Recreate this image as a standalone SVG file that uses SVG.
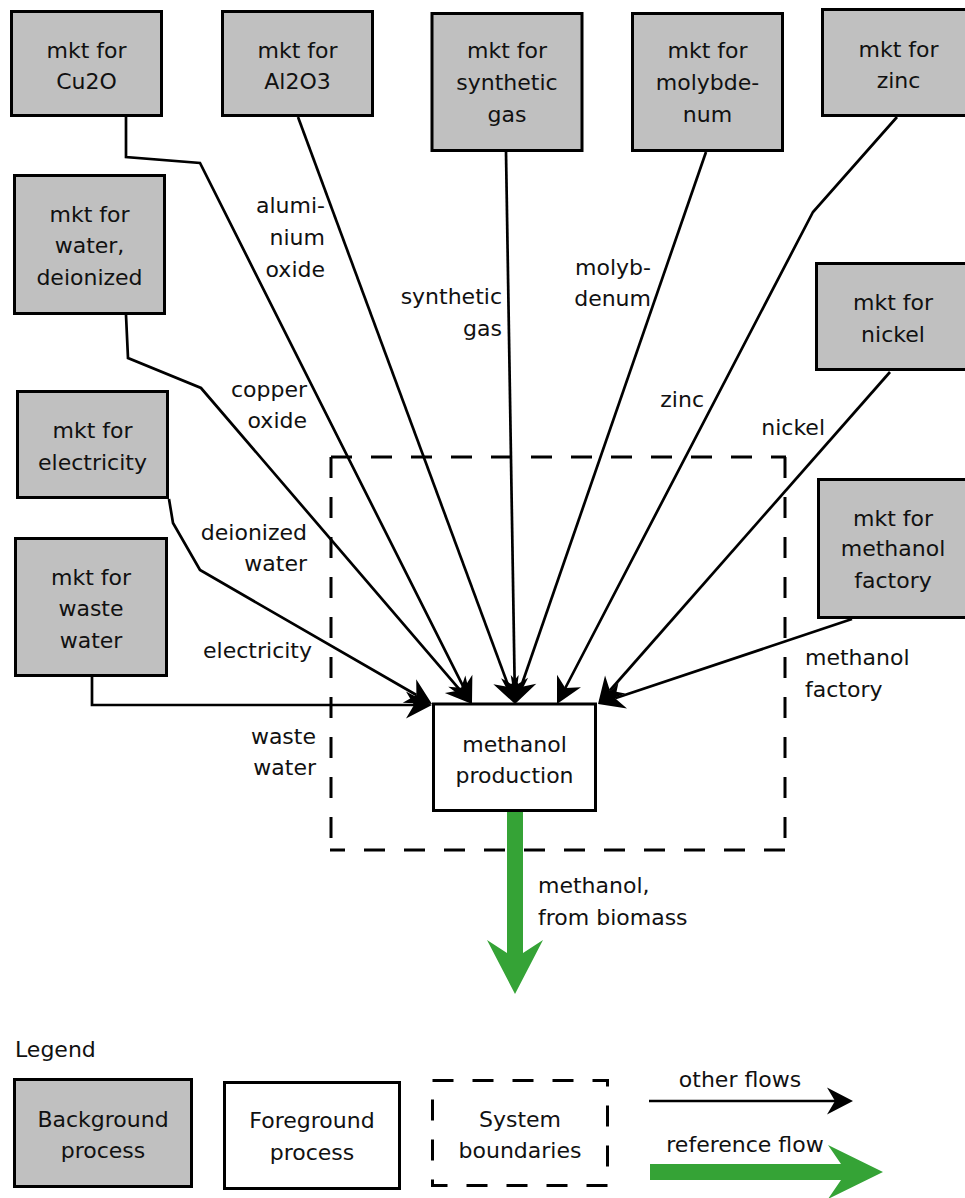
<svg xmlns="http://www.w3.org/2000/svg" width="965" height="1198" viewBox="0 0 965 1198">
  <style>
    text { font-family: "DejaVu Sans", "Liberation Sans", sans-serif; font-size: 22px; fill: #111; }
    .c { text-anchor: middle; }
    .e { text-anchor: end; }
    .bg { fill: #c0c0c0; stroke: #000; stroke-width: 3; }
    .fg { fill: #fff; stroke: #000; stroke-width: 3; }
    .flow { fill: none; stroke: #000; stroke-width: 2.7; stroke-linejoin: miter; marker-end: url(#head); }
    .bound { fill: none; stroke: #000; stroke-width: 3; stroke-dasharray: 21 19; }
    .ref { fill: #35a336; }
  </style>
  <defs>
    <marker id="head" markerUnits="userSpaceOnUse" orient="auto" refX="0" refY="0" markerWidth="40" markerHeight="40" overflow="visible">
      <path d="M18,0 L-8,-13.5 L0,0 L-8,13.5 Z" fill="#000"/>
    </marker>
  </defs>

  <!-- system boundary -->
  <g id="system-boundary">
    <line class="bound" x1="331" y1="457" x2="786" y2="457"/>
    <line class="bound" x1="785" y1="457" x2="785" y2="851"/>
    <line class="bound" x1="785" y1="850" x2="330" y2="850"/>
    <line class="bound" x1="331" y1="457" x2="331" y2="851"/>
  </g>

  <!-- flows -->
  <g id="connectors">
    <polyline class="flow" points="126,117 126,157 200,163 463.9,687.9"/>
    <polyline class="flow" points="298,117 508.8,687.1"/>
    <polyline class="flow" points="126,315 128,358 201,388 460.3,690.3"/>
    <polyline class="flow" points="169,499 173,523 200,570 416.4,695"/>
    <polyline class="flow" points="92,677 92,705 414,705"/>
    <polyline class="flow" points="506,152 514.7,686"/>
    <polyline class="flow" points="706,152 520.9,687"/>
    <polyline class="flow" points="897,117 813,212 565.3,688"/>
    <polyline class="flow" points="890,372 609.9,690.5"/>
    <polyline class="flow" points="852,619 615.1,698.3"/>
    <polygon class="ref" points="507,811 507,953 487,940 515,994 543,940 523,953 523,811"/>
  </g>

  <!-- flow labels -->
  <g id="flow-labels">
    <text class="e" x="325" y="213">alumi-</text>
    <text class="e" x="325" y="245">nium</text>
    <text class="e" x="325" y="277">oxide</text>
    <text class="e" x="307" y="397">copper</text>
    <text class="e" x="307" y="428">oxide</text>
    <text class="e" x="502" y="304">synthetic</text>
    <text class="e" x="502" y="336">gas</text>
    <text class="e" x="651" y="275">molyb-</text>
    <text class="e" x="651" y="306">denum</text>
    <text class="e" x="704" y="407">zinc</text>
    <text class="e" x="825" y="435">nickel</text>
    <text x="805" y="665">methanol</text>
    <text x="805" y="697">factory</text>
    <text class="e" x="307" y="540">deionized</text>
    <text class="e" x="307" y="571">water</text>
    <text class="e" x="312" y="658">electricity</text>
    <text class="e" x="316" y="744">waste</text>
    <text class="e" x="316" y="775">water</text>
    <text x="538" y="893">methanol,</text>
    <text x="538" y="925">from biomass</text>
  </g>

  <!-- background processes -->
  <g id="mkt-cu2o">
    <rect class="bg" x="11.5" y="11.5" width="150" height="104"/>
    <text class="c" x="86.5" y="58">mkt for</text>
    <text class="c" x="86.5" y="89">Cu2O</text>
  </g>
  <g id="mkt-al2o3">
    <rect class="bg" x="222.5" y="11.5" width="150" height="104"/>
    <text class="c" x="297.5" y="58">mkt for</text>
    <text class="c" x="297.5" y="89">Al2O3</text>
  </g>
  <g id="mkt-synthetic-gas">
    <rect class="bg" x="432" y="13.5" width="150" height="137"/>
    <text class="c" x="507" y="58">mkt for</text>
    <text class="c" x="507" y="90">synthetic</text>
    <text class="c" x="507" y="122">gas</text>
  </g>
  <g id="mkt-molybdenum">
    <rect class="bg" x="632.5" y="13.5" width="150" height="137"/>
    <text class="c" x="707.5" y="58">mkt for</text>
    <text class="c" x="707.5" y="90">molybde-</text>
    <text class="c" x="707.5" y="122">num</text>
  </g>
  <g id="mkt-zinc">
    <rect class="bg" x="822.5" y="9.5" width="152" height="106"/>
    <text class="c" x="898.5" y="57">mkt for</text>
    <text class="c" x="898.5" y="88">zinc</text>
  </g>
  <g id="mkt-water-deionized">
    <rect class="bg" x="14.5" y="175.5" width="150" height="138"/>
    <text class="c" x="89.5" y="222">mkt for</text>
    <text class="c" x="89.5" y="253">water,</text>
    <text class="c" x="89.5" y="285">deionized</text>
  </g>
  <g id="mkt-electricity">
    <rect class="bg" x="17.5" y="391.5" width="150" height="106"/>
    <text class="c" x="92.5" y="438">mkt for</text>
    <text class="c" x="92.5" y="470">electricity</text>
  </g>
  <g id="mkt-waste-water">
    <rect class="bg" x="15.5" y="538.5" width="151" height="137"/>
    <text class="c" x="91" y="585">mkt for</text>
    <text class="c" x="91" y="616">waste</text>
    <text class="c" x="91" y="648">water</text>
  </g>
  <g id="mkt-nickel">
    <rect class="bg" x="816.5" y="263.5" width="152" height="106"/>
    <text class="c" x="893" y="310">mkt for</text>
    <text class="c" x="893" y="342">nickel</text>
  </g>
  <g id="mkt-methanol-factory">
    <rect class="bg" x="818.5" y="479.5" width="152" height="138"/>
    <text class="c" x="893" y="526">mkt for</text>
    <text class="c" x="893" y="556">methanol</text>
    <text class="c" x="893" y="588">factory</text>
  </g>

  <!-- foreground process -->
  <g id="methanol-production">
    <rect class="fg" x="433.5" y="704" width="162" height="106.5"/>
    <text class="c" x="514.5" y="752">methanol</text>
    <text class="c" x="514.5" y="783">production</text>
  </g>

  <!-- legend -->
  <g id="legend">
    <text x="15" y="1057">Legend</text>
    <g id="legend-background">
      <rect class="bg" x="14.5" y="1079.5" width="177" height="107"/>
      <text class="c" x="103" y="1127">Background</text>
      <text class="c" x="103" y="1158">process</text>
    </g>
    <g id="legend-foreground">
      <rect class="fg" x="224.5" y="1082.5" width="175" height="106"/>
      <text class="c" x="312" y="1128">Foreground</text>
      <text class="c" x="312" y="1160">process</text>
    </g>
    <g id="legend-boundary">
      <rect class="bound" x="432.5" y="1080.5" width="175" height="105"/>
      <text class="c" x="520" y="1127">System</text>
      <text class="c" x="520" y="1158">boundaries</text>
    </g>
    <g id="legend-other-flows">
      <text class="c" x="740" y="1087">other flows</text>
      <line class="flow" x1="649" y1="1101" x2="835" y2="1101"/>
    </g>
    <g id="legend-reference-flow">
      <text class="c" x="745" y="1152">reference flow</text>
      <polygon class="ref" points="650,1164 841,1164 828,1145 883,1172 828,1199 841,1180 650,1180"/>
    </g>
  </g>
</svg>
